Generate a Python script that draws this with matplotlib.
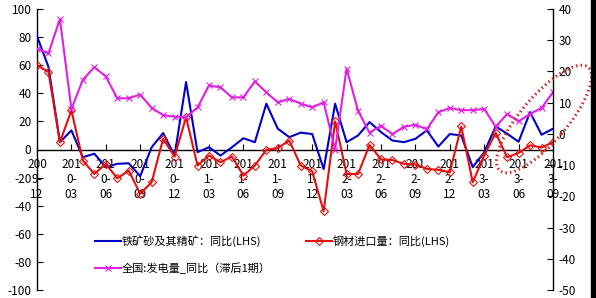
import matplotlib
matplotlib.use("Agg")
import matplotlib.pyplot as plt
from matplotlib.patches import Ellipse, Rectangle
from matplotlib.transforms import IdentityTransform
import numpy as np

plt.rcParams['font.family'] = ['Noto Sans CJK SC', 'DejaVu Sans']
plt.rcParams['axes.unicode_minus'] = False

# months 2009-12 .. 2013-09
months = ["2009-12", "2010-01", "2010-02", "2010-03", "2010-04", "2010-05", "2010-06",
          "2010-07", "2010-08", "2010-09", "2010-10", "2010-11", "2010-12",
          "2011-01", "2011-02", "2011-03", "2011-04", "2011-05", "2011-06",
          "2011-07", "2011-08", "2011-09", "2011-10", "2011-11", "2011-12",
          "2012-01", "2012-02", "2012-03", "2012-04", "2012-05", "2012-06",
          "2012-07", "2012-08", "2012-09", "2012-10", "2012-11", "2012-12",
          "2013-01", "2013-02", "2013-03", "2013-04", "2013-05", "2013-06",
          "2013-07", "2013-08", "2013-09"]

# 铁矿砂及其精矿：同比 (LHS)
iron_ore = [80.7, 58.8, 5.2, 13.6, -5.5, -3.0, -12.6, -10.2, -9.8, -19.0,
            1.6, 11.7, -4.3, 48.0, -1.9, 1.6, -4.3, 1.6, 8.0, 5.2,
            32.6, 14.8, 8.8, 12.0, 11.0, -14.0, 32.6, 5.2, 10.0, 19.5,
            12.4, 6.4, 5.2, 7.6, 13.6, 2.1, 11.0, 10.0, -12.6, -2.0,
            16.5, 11.2, 5.5, 26.6, 10.5, 14.8]

# 钢材进口量：同比 (LHS)
steel_import = [60.0, 55.2, 5.2, 27.9, -7.9, -17.4, -10.2, -20.5, -15.0, -31.5,
                -23.3, 7.6, -5.0, 23.0, -11.4, -4.3, -9.0, -5.0, -18.6, -11.4,
                -0.2, 1.0, 6.4, -11.4, -15.5, -44.0, 20.0, -17.4, -17.4, 3.2,
                -7.0, -7.5, -10.2, -10.7, -13.8, -14.5, -16.2, 16.4, -23.3, -4.3,
                11.8, -5.5, -2.5, 3.0, 1.4, 5.2]

# 全国:发电量_同比（滞后1期）(RHS)
power_gen = [27.3, 25.8, 36.8, 8.0, 17.3, 21.4, 18.4, 11.4, 11.4, 12.6,
             8.3, 6.0, 5.5, 5.3, 8.5, 15.5, 14.9, 11.7, 11.7, 16.8,
             13.3, 10.1, 11.2, 9.7, 8.5, 10.1, -5.0, 20.9, 7.4, 0.4,
             2.6, -0.1, 2.3, 2.9, 1.5, 6.9, 8.3, 7.6, 7.6, 8.0,
             2.3, 6.4, 4.0, 6.4, 8.3, 13.3]

labels = ["铁矿砂及其精矿：同比(LHS)", "钢材进口量：同比(LHS)", "全国:发电量_同比（滞后1期）"]

x = np.arange(len(months))
tick_idx = x[::3]
tick_labels = [m[:3] + "\n" + m[3:5] + "\n" + m[5:] for m in (months[i] for i in tick_idx)]

fig = plt.figure(figsize=(5.96, 2.98), dpi=100)
fig.patch.set_facecolor("white")
ax = fig.add_axes([37 / 596, 1 - 290 / 298, (553 - 37) / 596, 281 / 298])
ax2 = ax.twinx()
ax.set_facecolor("none")
ax2.set_facecolor("none")

l1, = ax.plot(x, iron_ore, color="#0000c8", lw=1.5, zorder=3)
l2, = ax.plot(x, steel_import, color="#e01010", lw=1.5, marker="D", ms=4.5,
              mfc="none", mec="#e01010", mew=0.8, zorder=4)
l3, = ax2.plot(x, power_gen, color="#e020e0", lw=1.5, marker="x", ms=4,
               mew=0.8, zorder=2)

ax.set_xlim(0, 45)
ax.set_ylim(-100, 100)
ax.set_yticks(np.arange(-100, 101, 20))
ax2.set_ylim(-50, 40)
ax2.set_yticks(np.arange(-50, 41, 10))

for s in ["top", "right"]:
    ax.spines[s].set_visible(False)
ax.spines["bottom"].set_position(("data", 0))
for s in ["top", "bottom", "left"]:
    ax2.spines[s].set_visible(False)
for a in (ax, ax2):
    for sp in a.spines.values():
        sp.set_linewidth(1.0)

ax.set_xticks(tick_idx)
ax.set_xticklabels(tick_labels, fontsize=8.5, linespacing=1.2)
ax.tick_params(axis="x", direction="in", length=4, pad=6)
ax.tick_params(axis="y", direction="in", length=4, labelsize=8.5, pad=4)
ax2.tick_params(axis="y", direction="in", length=4, labelsize=8.5, pad=4)

leg = ax.legend([l1, l3, l2], [labels[0], labels[2], labels[1]], ncol=2,
                loc="upper left", bbox_to_anchor=(0.093, 0.232), frameon=False,
                fontsize=8, handlelength=2.3, handletextpad=0.1,
                columnspacing=3.2, labelspacing=1.45)

# red dotted ellipse highlighting the latest months
ell = Ellipse((544, 298 - 119), 136, 46, angle=49.5, transform=IdentityTransform(),
              fill=False, ec="#d02828", lw=2.2, ls=(0, (0.5, 1.0)), clip_on=False,
              zorder=10)
ax2.add_artist(ell)
fig.patches.append(Rectangle((591 / 596, 0), 5 / 596, 1, transform=fig.transFigure,
                             color="black", clip_on=False))

fig.savefig("out.png", dpi=100)
